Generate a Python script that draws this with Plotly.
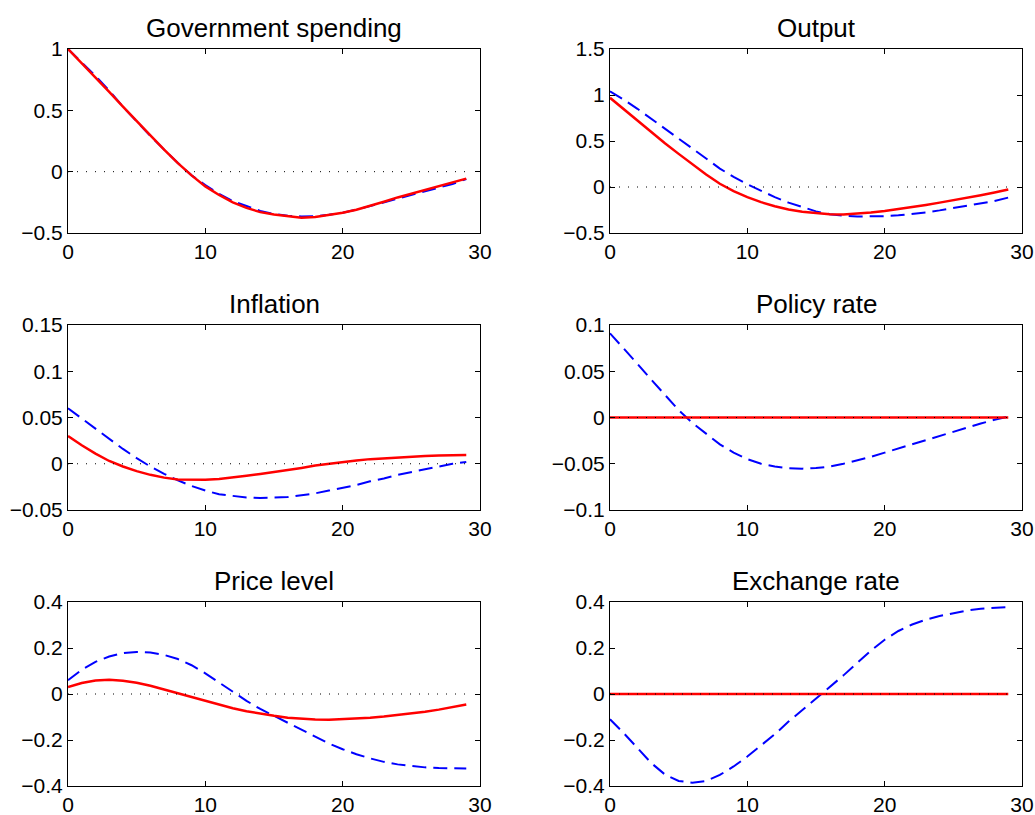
import plotly.graph_objects as go

# Impulse responses over a 30-quarter horizon
horizon = list(range(30))
zero_line = [0.0] * len(horizon)

titles = ["Government spending", "Output", "Inflation", "Policy rate", "Price level", "Exchange rate"]

# Dashed (blue) responses
gov_blue = [1.00, 0.89, 0.78, 0.66, 0.53, 0.41, 0.29, 0.18, 0.07, -0.03, -0.11, -0.18, -0.24, -0.28, -0.32, -0.345, -0.36, -0.365,
            -0.362, -0.352, -0.335, -0.31, -0.28, -0.25, -0.22, -0.19, -0.16, -0.13, -0.10, -0.06]
out_blue = [1.04, 0.95, 0.85, 0.74, 0.63, 0.52, 0.42, 0.31, 0.20, 0.11, 0.03, -0.04, -0.11, -0.17, -0.22, -0.265, -0.295, -0.312,
            -0.32, -0.321, -0.317, -0.308, -0.294, -0.276, -0.254, -0.23, -0.205, -0.18, -0.152, -0.115]
inf_blue = [0.060, 0.049, 0.038, 0.027, 0.016, 0.006, -0.003, -0.011, -0.018, -0.024, -0.029, -0.033, -0.035, -0.0365, -0.037,
            -0.0365, -0.036, -0.034, -0.032, -0.029, -0.026, -0.023, -0.019, -0.016, -0.012, -0.009, -0.006, -0.003, 0.000, 0.002]
rate_blue = [0.091, 0.075, 0.058, 0.041, 0.024, 0.008, -0.006, -0.018, -0.029, -0.038, -0.045, -0.050, -0.053, -0.0548, -0.0553,
             -0.0547, -0.053, -0.050, -0.0465, -0.0425, -0.038, -0.0335, -0.029, -0.0245, -0.0198, -0.015, -0.0105, -0.0065,
             -0.0025, 0.001]
price_blue = [0.060, 0.105, 0.140, 0.163, 0.178, 0.183, 0.180, 0.170, 0.152, 0.125, 0.090, 0.050, 0.010, -0.030, -0.065, -0.095,
              -0.125, -0.155, -0.185, -0.215, -0.240, -0.262, -0.280, -0.295, -0.306, -0.314, -0.319, -0.322, -0.324, -0.324]
fx_blue = [-0.110, -0.170, -0.235, -0.300, -0.350, -0.378, -0.386, -0.378, -0.352, -0.315, -0.272, -0.225, -0.175, -0.120, -0.070,
           -0.020, 0.027, 0.081, 0.135, 0.189, 0.236, 0.274, 0.302, 0.323, 0.339, 0.352, 0.363, 0.371, 0.376, 0.378]

# Solid (red) responses
gov_red = [1.00, 0.885, 0.77, 0.65, 0.53, 0.41, 0.295, 0.18, 0.07, -0.03, -0.12, -0.19, -0.25, -0.295, -0.33, -0.35, -0.365, -0.375,
           -0.37, -0.355, -0.335, -0.31, -0.28, -0.245, -0.21, -0.18, -0.15, -0.12, -0.09, -0.057]
out_red = [0.97, 0.845, 0.72, 0.595, 0.475, 0.36, 0.245, 0.135, 0.035, -0.045, -0.11, -0.165, -0.21, -0.245, -0.268, -0.285,
           -0.295, -0.298, -0.292, -0.278, -0.26, -0.24, -0.218, -0.195, -0.17, -0.145, -0.118, -0.09, -0.06, -0.028]
inf_red = [0.030, 0.020, 0.011, 0.003, -0.003, -0.008, -0.012, -0.015, -0.017, -0.0175, -0.0172, -0.0165, -0.015, -0.013, -0.011,
           -0.009, -0.0065, -0.0045, -0.002, 0.000, 0.002, 0.0035, 0.005, 0.006, 0.007, 0.008, 0.0085, 0.009, 0.0093, 0.0095]
rate_red = [0.0] * 30
price_red = [0.030, 0.048, 0.059, 0.062, 0.058, 0.049, 0.036, 0.020, 0.003, -0.014, -0.031, -0.047, -0.062, -0.075, -0.086, -0.095,
             -0.103, -0.108, -0.111, -0.112, -0.110, -0.107, -0.103, -0.098, -0.092, -0.085, -0.077, -0.068, -0.058, -0.046]
fx_red = [0.0] * 30

blue_series = [gov_blue, out_blue, inf_blue, rate_blue, price_blue, fx_blue]
red_series = [gov_red, out_red, inf_red, rate_red, price_red, fx_red]

# Axis ranges and tick labels per panel
y_ranges = [[-0.5, 1.0], [-0.5, 1.5], [-0.05, 0.15], [-0.1, 0.1], [-0.4, 0.4], [-0.4, 0.4]]
y_tickvals = [[-0.5, 0, 0.5, 1], [-0.5, 0, 0.5, 1, 1.5], [-0.05, 0, 0.05, 0.1, 0.15],
              [-0.1, -0.05, 0, 0.05, 0.1], [-0.4, -0.2, 0, 0.2, 0.4], [-0.4, -0.2, 0, 0.2, 0.4]]
y_ticktext = [["\u22120.5", "0", "0.5", "1"], ["\u22120.5", "0", "0.5", "1", "1.5"],
              ["\u22120.05", "0", "0.05", "0.1", "0.15"], ["\u22120.1", "\u22120.05", "0", "0.05", "0.1"],
              ["\u22120.4", "\u22120.2", "0", "0.2", "0.4"], ["\u22120.4", "\u22120.2", "0", "0.2", "0.4"]]
x_tickvals = [0, 10, 20, 30]
x_ticktext = ["0", "10", "20", "30"]

W, H = 1035, 815
col_px = [(68, 480), (610, 1022)]
row_px = [(49, 233), (325, 510), (602, 786)]

FONT = "Liberation Sans, Arial, Helvetica, sans-serif"

fig = go.Figure()
layout = dict(
    width=W, height=H, margin=dict(l=0, r=0, t=0, b=0, autoexpand=False),
    paper_bgcolor="white", plot_bgcolor="white", showlegend=False,
    font=dict(family=FONT, size=20, color="black"),
)
annotations = []

for i in range(6):
    r, c = divmod(i, 2)
    n = i + 1
    xa = "x" if n == 1 else f"x{n}"
    ya = "y" if n == 1 else f"y{n}"
    xd = [col_px[c][0] / W, col_px[c][1] / W]
    yd = [1 - row_px[r][1] / H, 1 - row_px[r][0] / H]

    fig.add_trace(go.Scatter(x=horizon, y=blue_series[i], mode="lines", xaxis=xa, yaxis=ya,
                             line=dict(color="#0000ff", width=2, dash="14px,7px")))
    fig.add_trace(go.Scatter(x=horizon, y=red_series[i], mode="lines", xaxis=xa, yaxis=ya,
                             line=dict(color="#ff0000", width=2.5)))
    fig.add_trace(go.Scatter(x=horizon, y=zero_line, mode="lines", xaxis=xa, yaxis=ya,
                             line=dict(color="black", width=1, dash="1px,8px")))

    common = dict(showgrid=False, zeroline=False, showline=True, mirror="allticks", linecolor="black",
                  linewidth=1, ticks="inside", ticklen=5, tickcolor="black", tickwidth=1, automargin=False,
                  tickfont=dict(family=FONT, size=21, color="black"))
    layout["xaxis" if n == 1 else f"xaxis{n}"] = dict(
        domain=xd, range=[0, 30], anchor=ya, tickvals=x_tickvals, ticktext=x_ticktext, **common)
    layout["yaxis" if n == 1 else f"yaxis{n}"] = dict(
        domain=yd, range=y_ranges[i], anchor=xa, tickvals=y_tickvals[i], ticktext=y_ticktext[i], **common)

    annotations.append(dict(text=titles[i], xref="paper", yref="paper", x=sum(xd) / 2, y=yd[1],
                            xanchor="center", yanchor="bottom", yshift=4, showarrow=False,
                            font=dict(family=FONT, size=26, color="black")))

layout["annotations"] = annotations
fig.update_layout(**layout)
fig.write_html("out.html")
